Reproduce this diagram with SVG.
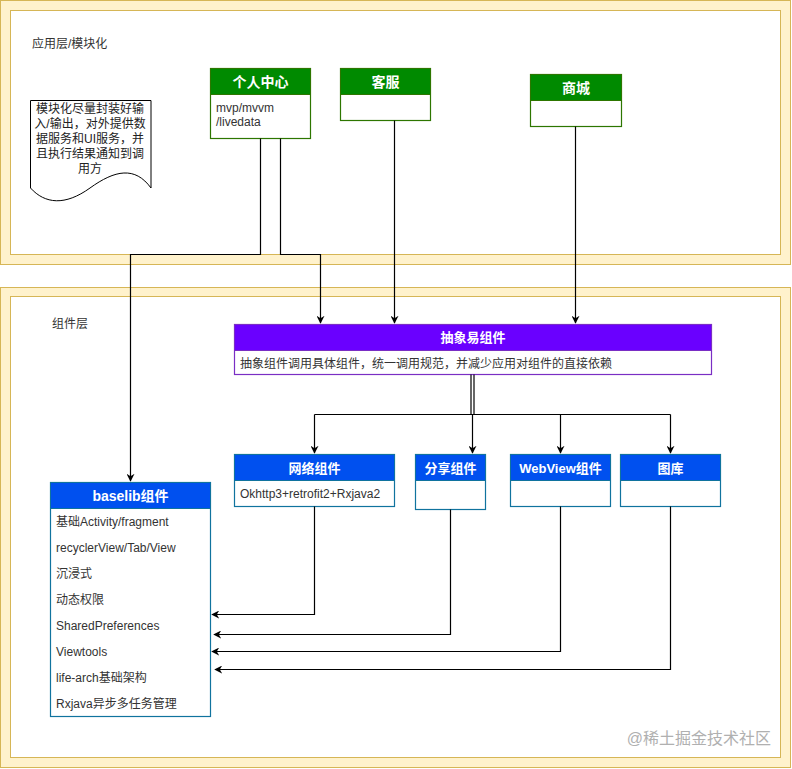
<svg xmlns="http://www.w3.org/2000/svg" width="792" height="769" viewBox="0 0 792 769">
<style>
text{font-family:"Liberation Sans","Noto Sans CJK SC",sans-serif;}
.lbl{font-size:12px;fill:#333;}
.hdr{font-size:13px;font-weight:bold;fill:#fff;text-anchor:middle;}
.cont-o{fill:#fff2cc;stroke:#d6b656;stroke-width:1;}
.cont-i{fill:#fff;stroke:#d6b656;stroke-width:1;}
.g-h{fill:#008a00;stroke:#2d7600;}
.g-b{fill:#fff;stroke:#2d7600;stroke-width:1.2;}
.b-h{fill:#0050ef;stroke:#10739e;}
.b-b{fill:#fff;stroke:#10739e;stroke-width:1.2;}
.p-h{fill:#6a00ff;stroke:#7a2ec4;}
.p-b{fill:#fff;stroke:#7a2ec4;stroke-width:1.2;}
.edge{fill:none;stroke:#000;stroke-width:1.2;}
</style>
<defs>
<marker id="arr" viewBox="0 0 10 10" refX="9" refY="5" markerWidth="8" markerHeight="8" markerUnits="userSpaceOnUse" orient="auto">
<path d="M0,0 L10,5 L0,10 L3,5 Z" fill="#000"/>
</marker>
</defs>
<rect width="792" height="769" fill="#fff"/>
<g id="app-layer">
<rect class="cont-o" x="0.5" y="0.5" width="790" height="264"/>
<rect class="cont-i" x="10.5" y="10.5" width="770" height="244"/>
<text class="lbl" x="32" y="48">应用层/模块化</text>
</g>
<g id="comp-layer">
<rect class="cont-o" x="0.5" y="287.5" width="790" height="480"/>
<rect class="cont-i" x="10.5" y="296.5" width="770" height="461"/>
<text class="lbl" x="52" y="328">组件层</text>
</g>
<g id="note">
<path d="M30.5,100.5 H151 V188 C135,166 115,170 90,188 C65,206 45,204 30.5,188 Z" fill="#fff" stroke="#000" stroke-width="1"/>
<text class="lbl" text-anchor="middle" fill="#000" style="fill:#222"><tspan x="90" y="113">模块化尽量封装好输</tspan><tspan x="90" y="128">入/输出，对外提供数</tspan><tspan x="90" y="143">据服务和UI服务，并</tspan><tspan x="90" y="158">且执行结果通知到调</tspan><tspan x="90" y="173">用方</tspan></text>
</g>
<g id="personal">
<rect class="g-b" x="210.5" y="68.5" width="100" height="70"/>
<rect class="g-h" x="210.5" y="68.5" width="100" height="26"/>
<text class="hdr" x="260.5" y="87" style="font-size:14px">个人中心</text>
<text class="lbl" x="216" y="112">mvp/mvvm</text>
<text class="lbl" x="216" y="126">/livedata</text>
</g>
<g id="service">
<rect class="g-b" x="340.5" y="68.5" width="90" height="52"/>
<rect class="g-h" x="340.5" y="68.5" width="90" height="26"/>
<text class="hdr" x="385.5" y="87" style="font-size:14px">客服</text>
</g>
<g id="mall">
<rect class="g-b" x="530.5" y="74.5" width="91" height="52"/>
<rect class="g-h" x="530.5" y="74.5" width="91" height="26"/>
<text class="hdr" x="576" y="93" style="font-size:14px">商城</text>
</g>
<g id="abstract">
<rect class="p-b" x="234.5" y="324.5" width="477" height="50"/>
<rect class="p-h" x="234.5" y="324.5" width="477" height="26"/>
<text class="hdr" x="473" y="342">抽象易组件</text>
<text class="lbl" x="240" y="368">抽象组件调用具体组件，统一调用规范，并减少应用对组件的直接依赖</text>
</g>
<g id="network">
<rect class="b-b" x="234.5" y="454.5" width="160" height="52"/>
<rect class="b-h" x="234.5" y="454.5" width="160" height="26"/>
<text class="hdr" x="314.5" y="473">网络组件</text>
<text class="lbl" x="240" y="498">Okhttp3+retrofit2+Rxjava2</text>
</g>
<g id="share">
<rect class="b-b" x="415.5" y="454.5" width="70" height="55"/>
<rect class="b-h" x="415.5" y="454.5" width="70" height="26"/>
<text class="hdr" x="450.5" y="473">分享组件</text>
</g>
<g id="webview">
<rect class="b-b" x="510.5" y="454.5" width="100" height="52"/>
<rect class="b-h" x="510.5" y="454.5" width="100" height="26"/>
<text class="hdr" x="560.5" y="473">WebView组件</text>
</g>
<g id="gallery">
<rect class="b-b" x="620.5" y="454.5" width="100" height="52"/>
<rect class="b-h" x="620.5" y="454.5" width="100" height="26"/>
<text class="hdr" x="670.5" y="473">图库</text>
</g>
<g id="baselib">
<rect class="b-b" x="50.5" y="482.5" width="160" height="234"/>
<rect class="b-h" x="50.5" y="482.5" width="160" height="26"/>
<text class="hdr" x="130.5" y="501" style="font-size:14px">baselib组件</text>
<text class="lbl" x="56" y="526">基础Activity/fragment</text>
<text class="lbl" x="56" y="552">recyclerView/Tab/View</text>
<text class="lbl" x="56" y="578">沉浸式</text>
<text class="lbl" x="56" y="604">动态权限</text>
<text class="lbl" x="56" y="630">SharedPreferences</text>
<text class="lbl" x="56" y="656">Viewtools</text>
<text class="lbl" x="56" y="682">life-arch基础架构</text>
<text class="lbl" x="56" y="708">Rxjava异步多任务管理</text>
</g>
<g id="connectors">
<path class="edge" d="M260.5,138.5 V254.5 H130.5 V481" marker-end="url(#arr)"/>
<path class="edge" d="M280.5,138.5 V254.5 H320.5 V323" marker-end="url(#arr)"/>
<path class="edge" d="M394.5,120.5 V323" marker-end="url(#arr)"/>
<path class="edge" d="M575.5,126.5 V323" marker-end="url(#arr)"/>
<path class="edge" d="M471,374.5 V414.5"/>
<path class="edge" d="M474,374.5 V414.5"/>
<path class="edge" d="M314.5,414.5 H670.5"/>
<path class="edge" d="M314.5,414.5 V453" marker-end="url(#arr)"/>
<path class="edge" d="M472.5,414.5 V453" marker-end="url(#arr)"/>
<path class="edge" d="M560.5,414.5 V453" marker-end="url(#arr)"/>
<path class="edge" d="M670.5,414.5 V453" marker-end="url(#arr)"/>
<path class="edge" d="M314.5,506.5 V614.5 H212" marker-end="url(#arr)"/>
<path class="edge" d="M450.5,509.5 V634.5 H214" marker-end="url(#arr)"/>
<path class="edge" d="M560.5,506.5 V651.5 H212" marker-end="url(#arr)"/>
<path class="edge" d="M670.5,506.5 V669.5 H215" marker-end="url(#arr)"/>
</g>
<text x="771" y="744" text-anchor="end" style="font-size:16px;fill:#b0b0b0">@稀土掘金技术社区</text>
</svg>
